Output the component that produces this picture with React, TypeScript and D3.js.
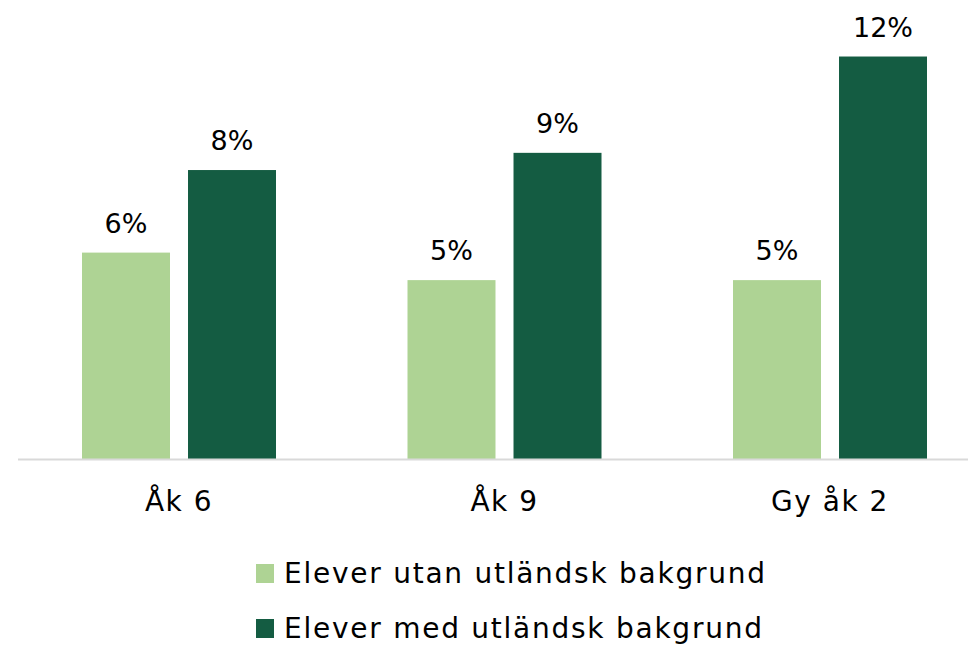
import React, { useEffect, useRef } from "react";
import * as d3 from "d3";

const categories = ["Åk 6", "Åk 9", "Gy åk 2"];
const seriesNames = ["Elever utan utländsk bakgrund", "Elever med utländsk bakgrund"];
const seriesColors = ["#aed394", "#145c42"];
const utanValues = [6.0, 5.2, 5.2];
const medValues = [8.4, 8.9, 11.7];

const W = 968;
const H = 646;
const FONT = "'DejaVu Sans', Verdana, sans-serif";

export default function App() {
  const ref = useRef<SVGSVGElement | null>(null);

  useEffect(() => {
    document.body.style.margin = "0";
    if (!ref.current) return;
    const svg = d3.select(ref.current);
    svg.selectAll("*").remove();

    const baseline = 459;
    const x = d3
      .scaleBand<string>()
      .domain(categories)
      .range([16.25, 992.75])
      .paddingInner(0.404)
      .paddingOuter(0.202);

    const inner = d3
      .scaleBand<string>()
      .domain(["0", "1"])
      .range([0, x.bandwidth()])
      .paddingInner(0.17);

    const y = d3.scaleLinear().domain([0, 12]).range([baseline, baseline - 12 * 34.4]);

    const series = [utanValues, medValues];

    series.forEach((vals, si) => {
      const g = svg.append("g");
      g.selectAll("rect")
        .data(vals)
        .join("rect")
        .attr("x", (_, i) => x(categories[i])! + inner(String(si))!)
        .attr("y", (d) => y(d))
        .attr("width", inner.bandwidth())
        .attr("height", (d) => baseline - y(d))
        .attr("fill", seriesColors[si]);

      g.selectAll("text")
        .data(vals)
        .join("text")
        .attr("x", (_, i) => x(categories[i])! + inner(String(si))! + inner.bandwidth() / 2)
        .attr("y", (d) => y(d) - 20)
        .attr("text-anchor", "middle")
        .attr("font-family", FONT)
        .attr("font-size", 27)
        .attr("fill", "#000")
        .text((d) => `${Math.round(d)}%`);
    });

    // baseline axis
    svg
      .append("line")
      .attr("x1", 18)
      .attr("x2", W)
      .attr("y1", baseline + 0.5)
      .attr("y2", baseline + 0.5)
      .attr("stroke", "#d9d9d9")
      .attr("stroke-width", 2);

    // category labels
    svg
      .append("g")
      .selectAll("text")
      .data(categories)
      .join("text")
      .attr("x", (d) => x(d)! + x.bandwidth() / 2)
      .attr("y", 511)
      .attr("text-anchor", "middle")
      .attr("font-family", FONT)
      .attr("font-size", 28)
      .attr("letter-spacing", 1.5)
      .attr("fill", "#000")
      .text((d) => d);

    // legend
    const legend = svg.append("g");
    seriesNames.forEach((name, i) => {
      const ly = 583 + i * 55;
      legend
        .append("rect")
        .attr("x", 256)
        .attr("y", ly - 19)
        .attr("width", 18)
        .attr("height", 19)
        .attr("fill", seriesColors[i]);
      legend
        .append("text")
        .attr("x", 284)
        .attr("y", ly)
        .attr("font-family", FONT)
        .attr("font-size", 28)
        .attr("letter-spacing", 1.75)
        .attr("fill", "#000")
        .text(name);
    });
  }, []);

  return <svg ref={ref} width={W} height={H} style={{ display: "block", background: "#fff" }} />;
}
